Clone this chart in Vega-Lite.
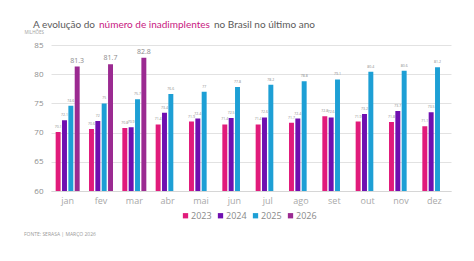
{
  "$schema": "https://vega.github.io/schema/vega-lite/v6.json",
  "width": 400,
  "height": 146,
  "autosize": {"type": "none"},
  "padding": {"left": 51, "top": 45, "right": 23, "bottom": 70},
  "background": "white",
  "title": {
    "text": "FONTE: SERASA | MARÇO 2026",
    "orient": "bottom",
    "anchor": "start",
    "frame": "group",
    "dx": -27,
    "offset": 11,
    "fontSize": 5,
    "fontWeight": "normal",
    "color": "#9a9a9a",
    "font": "Open Sans"
  },
  "datasets": {
    "inadimplentes": [
      {"mes": "jan", "ano": "2023", "valor": 70.1},
      {"mes": "jan", "ano": "2024", "valor": 72.1},
      {"mes": "jan", "ano": "2025", "valor": 74.6},
      {"mes": "jan", "ano": "2026", "valor": 81.3},
      {"mes": "fev", "ano": "2023", "valor": 70.6},
      {"mes": "fev", "ano": "2024", "valor": 72.0},
      {"mes": "fev", "ano": "2025", "valor": 75},
      {"mes": "fev", "ano": "2026", "valor": 81.7},
      {"mes": "mar", "ano": "2023", "valor": 70.8},
      {"mes": "mar", "ano": "2024", "valor": 70.9},
      {"mes": "mar", "ano": "2025", "valor": 75.7},
      {"mes": "mar", "ano": "2026", "valor": 82.8},
      {"mes": "abr", "ano": "2023", "valor": 71.4},
      {"mes": "abr", "ano": "2024", "valor": 73.4},
      {"mes": "abr", "ano": "2025", "valor": 76.6},
      {"mes": "mai", "ano": "2023", "valor": 71.9},
      {"mes": "mai", "ano": "2024", "valor": 72.4},
      {"mes": "mai", "ano": "2025", "valor": 77},
      {"mes": "jun", "ano": "2023", "valor": 71.4},
      {"mes": "jun", "ano": "2024", "valor": 72.5},
      {"mes": "jun", "ano": "2025", "valor": 77.8},
      {"mes": "jul", "ano": "2023", "valor": 71.4},
      {"mes": "jul", "ano": "2024", "valor": 72.6},
      {"mes": "jul", "ano": "2025", "valor": 78.2},
      {"mes": "ago", "ano": "2023", "valor": 71.7},
      {"mes": "ago", "ano": "2024", "valor": 72.4},
      {"mes": "ago", "ano": "2025", "valor": 78.8},
      {"mes": "set", "ano": "2023", "valor": 72.8},
      {"mes": "set", "ano": "2024", "valor": 72.6},
      {"mes": "set", "ano": "2025", "valor": 79.1},
      {"mes": "out", "ano": "2023", "valor": 71.9},
      {"mes": "out", "ano": "2024", "valor": 73.2},
      {"mes": "out", "ano": "2025", "valor": 80.4},
      {"mes": "nov", "ano": "2023", "valor": 71.8},
      {"mes": "nov", "ano": "2024", "valor": 73.7},
      {"mes": "nov", "ano": "2025", "valor": 80.6},
      {"mes": "dez", "ano": "2023", "valor": 71.1},
      {"mes": "dez", "ano": "2024", "valor": 73.5},
      {"mes": "dez", "ano": "2025", "valor": 81.2}
    ]
  },
  "layer": [
    {
      "data": {"name": "inadimplentes"},
      "encoding": {
        "x": {
          "field": "mes",
          "type": "nominal",
          "sort": ["jan", "fev", "mar", "abr", "mai", "jun", "jul", "ago", "set", "out", "nov", "dez"],
          "scale": {"paddingInner": 0.28, "paddingOuter": 0.14},
          "axis": {
            "title": null,
            "labelAngle": 0,
            "labelFontSize": 9,
            "labelColor": "#a8a8a8",
            "labelFont": "Open Sans",
            "labelPadding": 5,
            "ticks": false,
            "domain": true,
            "domainColor": "#d6d6d6",
            "grid": false
          }
        },
        "xOffset": {
          "field": "ano",
          "type": "nominal",
          "scale": {"domain": ["2023", "2024", "2025", "2026"], "paddingInner": 0.22}
        },
        "y": {
          "field": "valor",
          "type": "quantitative",
          "scale": {"domain": [60, 85], "zero": false, "nice": false},
          "axis": {
            "title": "MILHÕES",
            "titleAngle": 0,
            "titleX": -27,
            "titleY": -13,
            "titleAlign": "left",
            "titleBaseline": "middle",
            "titleFontSize": 4.5,
            "titleFontWeight": "normal",
            "titleColor": "#a0a0a0",
            "titleFont": "Open Sans",
            "values": [60, 65, 70, 75, 80, 85],
            "labelOverlap": false,
            "labelFontSize": 8,
            "labelColor": "#8c8c8c",
            "labelFont": "Open Sans",
            "labelPadding": 8,
            "ticks": false,
            "domain": false,
            "gridColor": "#e2e2e2"
          }
        }
      },
      "layer": [
        {
          "mark": {"type": "bar", "clip": true},
          "encoding": {
            "color": {
              "field": "ano",
              "type": "nominal",
              "scale": {
                "domain": ["2023", "2024", "2025", "2026"],
                "range": ["#e11b7b", "#6f0fb0", "#1d9fd5", "#9b2a91"]
              },
              "legend": {
                "title": null,
                "orient": "none",
                "legendX": 130,
                "legendY": 166,
                "direction": "horizontal",
                "symbolType": "square",
                "symbolSize": 28,
                "symbolStrokeWidth": 0,
                "labelFontSize": 9,
                "labelColor": "#8a8a8a",
                "labelFont": "Open Sans",
                "labelOffset": 1,
                "columnPadding": 4
              }
            }
          }
        },
        {
          "mark": {"type": "text", "baseline": "bottom", "dy": -3, "color": "#8a8a8a", "font": "Open Sans"},
          "encoding": {
            "text": {"field": "valor", "type": "quantitative"},
            "size": {
              "condition": {"test": "datum.ano === '2026'", "value": 7},
              "value": 3.5
            }
          }
        }
      ]
    },
    {
      "data": {"values": [{}]},
      "mark": {"type": "text", "text": "A evolução do", "align": "left", "baseline": "middle", "x": -18, "y": -20, "fontSize": 10, "font": "Lato", "color": "#5a5a5a"},
      "encoding": {}
    },
    {
      "data": {"values": [{}]},
      "mark": {"type": "text", "text": "número de inadimplentes", "align": "left", "baseline": "middle", "x": 48, "y": -20, "fontSize": 10, "font": "Lato", "color": "#c8187f"},
      "encoding": {}
    },
    {
      "data": {"values": [{}]},
      "mark": {"type": "text", "text": "no Brasil no último ano", "align": "left", "baseline": "middle", "x": 163, "y": -20, "fontSize": 10, "font": "Lato", "color": "#5a5a5a"},
      "encoding": {}
    }
  ],
  "config": {
    "view": {"stroke": null}
  }
}
